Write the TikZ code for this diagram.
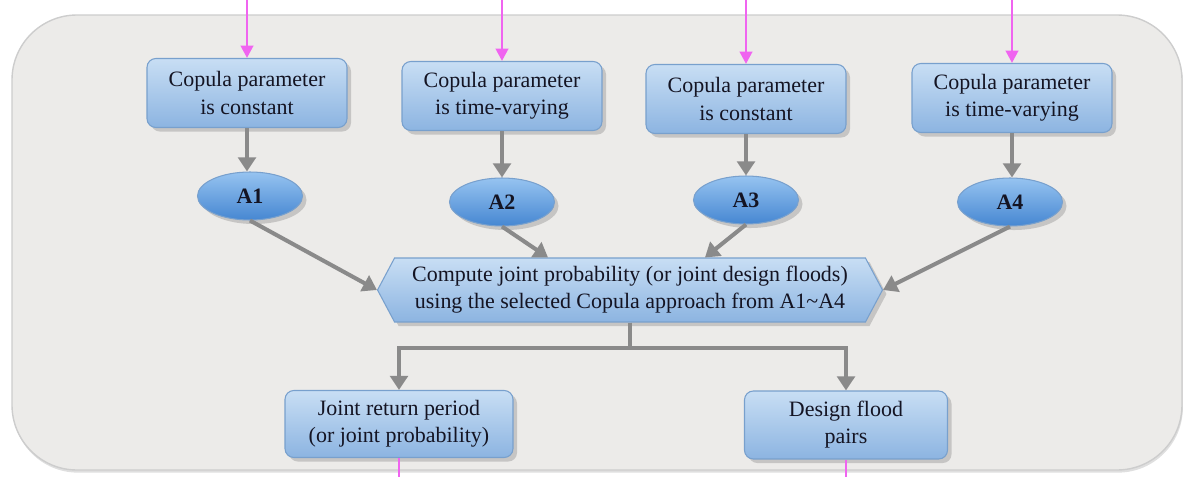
\documentclass[tikz,border=0pt]{standalone}
\usepackage{fontspec}
\setmainfont{Liberation Serif}
\usepackage{xcolor}
\usetikzlibrary{shapes,arrows.meta,positioning,calc,shadows}

\definecolor{panelgray}{RGB}{236,235,233}
\definecolor{paneledge}{RGB}{205,205,205}
\definecolor{boxtop}{RGB}{200,222,244}
\definecolor{boxbot}{RGB}{140,180,225}
\definecolor{boxline}{RGB}{120,160,205}
\definecolor{elltop}{RGB}{150,195,240}
\definecolor{ellbot}{RGB}{70,135,210}
\definecolor{linkgray}{RGB}{138,138,138}
\definecolor{feedpink}{RGB}{240,100,240}
\definecolor{inktext}{RGB}{20,20,35}

\tikzset{
  stepbox/.style={rectangle, rounded corners=5pt, draw=boxline, line width=0.6pt,
    top color=boxtop, bottom color=boxbot, drop shadow={opacity=0.35},
    align=center, text=inktext, font=\fontsize{12.5}{15.4}\selectfont,
    minimum width=4cm, minimum height=1.38cm, inner sep=2pt},
  casenode/.style={ellipse, draw=boxline, line width=0.6pt,
    top color=elltop, bottom color=ellbot, drop shadow={opacity=0.35},
    text=inktext, font=\fontsize{12.5}{15}\selectfont\bfseries,
    minimum width=2.1cm, minimum height=0.96cm, inner sep=0pt},
  mergebox/.style={signal, signal to=west and east, signal pointer angle=124,
    draw=boxline, line width=0.6pt, top color=boxtop, bottom color=boxbot,
    drop shadow={opacity=0.35}, align=center, text=inktext,
    font=\fontsize{12.5}{15.4}\selectfont,
    minimum width=10.1cm, minimum height=1.28cm, inner sep=2pt},
  link/.style={draw=linkgray, line width=2.3pt,
    -{Triangle[width=10pt,length=8pt]}},
  feed/.style={draw=feedpink, line width=1.6pt,
    -{Triangle[width=7pt,length=7pt]}},
  feedout/.style={draw=feedpink, line width=1.6pt}
}

\begin{document}
\begin{tikzpicture}[x=0.02cm, y=-0.02cm]
    \useasboundingbox (0,0) rectangle (1188,477);

    % background panel
    \fill[panelgray, rounded corners=1.3cm, drop shadow={opacity=0.25, shadow xshift=0.5pt, shadow yshift=-1.5pt}]
        (12,15) rectangle (1182,470);
    \draw[paneledge, line width=0.8pt, rounded corners=1.3cm] (12,15) rectangle (1182,470);

    % incoming ends at the top edge
    \coordinate (in1) at (247,0);
    \coordinate (in2) at (502,0);
    \coordinate (in3) at (746,0);
    \coordinate (in4) at (1012,0);

    % parameter boxes
    \node[stepbox] (b1) at (247,93)  {Copula parameter\\is constant};
    \node[stepbox] (b2) at (502,96)  {Copula parameter\\is time-varying};
    \node[stepbox] (b3) at (746,99)  {Copula parameter\\is constant};
    \node[stepbox] (b4) at (1012,98) {Copula parameter\\is time-varying};

    % approaches
    \node[casenode] (a1) at (250,196)  {A1};
    \node[casenode] (a2) at (502,202)  {A2};
    \node[casenode] (a3) at (746,200)  {A3};
    \node[casenode] (a4) at (1010,202) {A4};

    % joint computation
    \node[mergebox] (hex) at (630,290)
        {Compute joint probability (or joint design floods)\\using the selected Copula approach from A1\textasciitilde A4};

    % results
    \node[stepbox, minimum width=4.56cm, minimum height=1.34cm] (jrp) at (399,424)
        {Joint return period\\(or joint probability)};
    \node[stepbox, minimum width=4.06cm, minimum height=1.36cm] (dfp) at (846,425)
        {Design flood\\pairs};

    \coordinate (out1) at (399,477);
    \coordinate (out2) at (846,477);

    % pink links from the previous stage
    \foreach \i in {1,...,4}
        \draw[feed] (in\i) -- (b\i.north);

    % parameter -> approach
    \foreach \i in {1,...,4}
        \draw[link] (b\i.south) -- (b\i.south |- a\i.north);

    % approach -> computation
    \draw[link] (a1.south) -- (hex.west);
    \draw[link] (a2.south) -- ([xshift=-1.64cm]hex.north);
    \draw[link] (a3.south) -- ([xshift=1.5cm]hex.north);
    \draw[link] (a4.south) -- (hex.east);

    % split to the results
    \draw[link] (hex.south) -- ++(0,25) -| (jrp.north);
    \draw[link] (hex.south) -- ++(0,25) -| (dfp.north);

    % pink links to the next stage
    \draw[feedout] (jrp.south) -- (out1);
    \draw[feedout] (dfp.south) -- (out2);
\end{tikzpicture}
\end{document}
